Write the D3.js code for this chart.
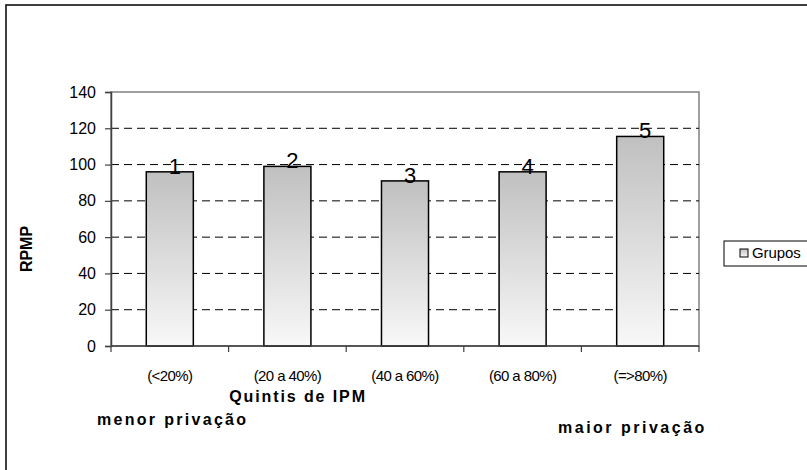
<!DOCTYPE html>
<html>
<head>
<meta charset="utf-8">
<script src="https://cdn.jsdelivr.net/npm/d3@7/dist/d3.min.js"></script>
<style>
  html, body { margin: 0; padding: 0; background: #fff; }
  svg { display: block; font-family: Arial, "Liberation Sans", sans-serif; }
</style>
</head>
<body>
<svg id="chart" width="807" height="470"></svg>
<script>
// RPMP by IPM quintile
const categories = ["(<20%)", "(20 a 40%)", "(40 a 60%)", "(60 a 80%)", "(=>80%)"];
const groupLabels = ["1", "2", "3", "4", "5"];
const values = [96, 99, 91, 96, 115.5];
const yTicks = [0, 20, 40, 60, 80, 100, 120, 140];

const svg = d3.select("#chart");
const W = 807, H = 470;

// outer chart frame (runs off the right and bottom edges)
svg.append("rect")
  .attr("x", 6).attr("y", 5).attr("width", W + 10).attr("height", H + 10)
  .attr("fill", "#fff").attr("stroke", "#000").attr("stroke-width", 1.5);

const plot = { left: 111, right: 699, top: 92, bottom: 346 };

const x = d3.scaleBand()
  .domain(categories)
  .range([plot.left, plot.right])
  .paddingInner(0.6)
  .paddingOuter(0.3);

const xOuter = d3.scaleBand()
  .domain(categories)
  .range([plot.left, plot.right]);

const y = d3.scaleLinear().domain([0, 140]).range([plot.bottom, plot.top]);

// gradient used for the bars
const defs = svg.append("defs");
const grad = defs.append("linearGradient")
  .attr("id", "barGrad").attr("x1", 0).attr("y1", 0).attr("x2", 0).attr("y2", 1);
grad.append("stop").attr("offset", "0%").attr("stop-color", "#c0c0c0");
grad.append("stop").attr("offset", "100%").attr("stop-color", "#f8f8f8");

// plot area border (grey)
svg.append("rect")
  .attr("x", plot.left).attr("y", plot.top)
  .attr("width", plot.right - plot.left).attr("height", plot.bottom - plot.top)
  .attr("fill", "none").attr("stroke", "#808080").attr("stroke-width", 1.5);

// dashed horizontal gridlines
svg.append("g")
  .selectAll("line")
  .data(yTicks.filter(t => t > 0 && t < 140))
  .join("line")
  .attr("x1", plot.left).attr("x2", plot.right)
  .attr("y1", d => y(d)).attr("y2", d => y(d))
  .attr("stroke", "#000").attr("stroke-width", 1)
  .attr("stroke-dasharray", "8,5");

// bars
svg.append("g")
  .selectAll("rect")
  .data(values)
  .join("rect")
  .attr("x", (d, i) => x(categories[i]))
  .attr("y", d => y(d))
  .attr("width", x.bandwidth())
  .attr("height", d => y(0) - y(d))
  .attr("fill", "url(#barGrad)")
  .attr("stroke", "#000").attr("stroke-width", 1.5);

// group number labels on top of bars
svg.append("g")
  .selectAll("text")
  .data(values)
  .join("text")
  .attr("x", (d, i) => x(categories[i]) + x.bandwidth() / 2 + 5)
  .attr("y", d => y(d) + 2)
  .attr("text-anchor", "middle")
  .attr("font-size", 22)
  .attr("fill", "#000")
  .text((d, i) => groupLabels[i]);

// y axis
const yAxis = svg.append("g")
  .attr("transform", `translate(${plot.left},0)`)
  .call(d3.axisLeft(y).tickValues(yTicks).tickSize(6).tickPadding(9));
yAxis.select(".domain").attr("stroke", "#404040").attr("stroke-width", 1.5);
yAxis.selectAll(".tick line").attr("stroke", "#404040").attr("stroke-width", 1.2);
yAxis.selectAll(".tick text")
  .attr("font-size", 16).attr("fill", "#000")
  .attr("font-family", "Arial, 'Liberation Sans', sans-serif");

// x axis
const xAxisG = svg.append("g")
  .attr("transform", `translate(0,${plot.bottom})`);
xAxisG.append("line")
  .attr("x1", plot.left).attr("x2", plot.right)
  .attr("y1", 0).attr("y2", 0)
  .attr("stroke", "#404040").attr("stroke-width", 1.5);
const boundaries = categories.map(c => xOuter(c)).concat([plot.right]);
xAxisG.selectAll("line.tk")
  .data(boundaries)
  .join("line")
  .attr("class", "tk")
  .attr("x1", d => d).attr("x2", d => d)
  .attr("y1", 0).attr("y2", 6)
  .attr("stroke", "#404040").attr("stroke-width", 1.2);
xAxisG.selectAll("text")
  .data(categories)
  .join("text")
  .attr("x", d => xOuter(d) + xOuter.bandwidth() / 2)
  .attr("y", 35)
  .attr("text-anchor", "middle")
  .attr("font-size", 15)
  .attr("letter-spacing", -0.6)
  .attr("fill", "#000")
  .text(d => d);

// axis titles
svg.append("text")
  .attr("x", 298).attr("y", 402)
  .attr("text-anchor", "middle")
  .attr("font-size", 16).attr("font-weight", "bold")
  .attr("letter-spacing", 1.9)
  .text("Quintis de  IPM");

svg.append("text")
  .attr("transform", "translate(32,249) rotate(-90)")
  .attr("text-anchor", "middle")
  .attr("font-size", 16).attr("font-weight", "bold")
  .text("RPMP");

svg.append("text")
  .attr("x", 97).attr("y", 425)
  .attr("font-size", 16).attr("font-weight", "bold")
  .attr("letter-spacing", 2.3)
  .text("menor privação");

svg.append("text")
  .attr("x", 558).attr("y", 433)
  .attr("font-size", 16).attr("font-weight", "bold")
  .attr("letter-spacing", 2.5)
  .text("maior privação");

// legend
const lg = svg.append("g").attr("transform", "translate(724,241)");
lg.append("rect")
  .attr("x", 0).attr("y", 0).attr("width", 100).attr("height", 25)
  .attr("fill", "#fff").attr("stroke", "#000").attr("stroke-width", 1);
lg.append("rect")
  .attr("x", 16).attr("y", 8).attr("width", 8).attr("height", 8)
  .attr("fill", "url(#barGrad)").attr("stroke", "#000").attr("stroke-width", 1);
lg.append("text")
  .attr("x", 28).attr("y", 17)
  .attr("font-size", 15)
  .attr("letter-spacing", -0.1)
  .text("Grupos");
</script>
</body>
</html>
